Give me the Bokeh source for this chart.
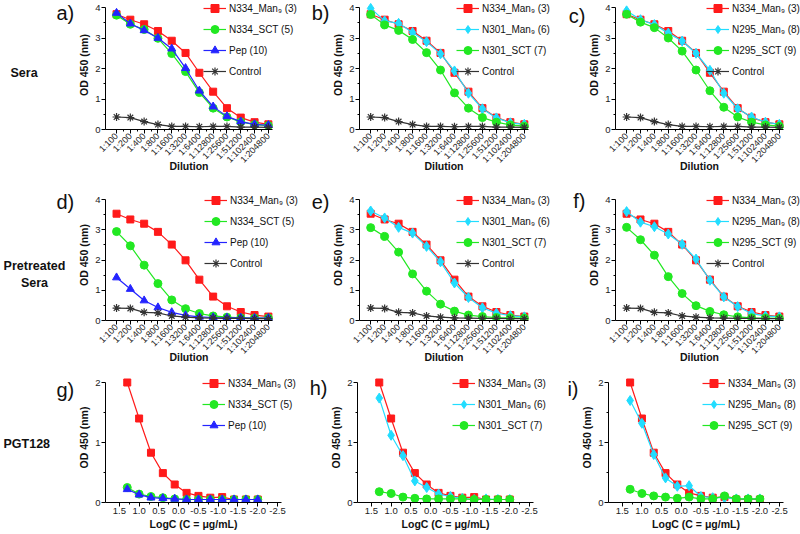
import math
from bokeh.plotting import figure
from bokeh.models import (Range1d, FixedTicker, Legend, LegendItem, Label,
                          NumeralTickFormatter, LinearAxis, CustomJSTickFormatter)
from bokeh.layouts import row, column
from bokeh.embed import file_html
from bokeh.resources import INLINE

# ---------------- data ----------------
dilutions = ["1:100", "1:200", "1:400", "1:800", "1:1600", "1:3200", "1:6400",
             "1:12800", "1:25600", "1:51200", "1:102400", "1:204800"]
logc = [1.3, 1.0, 0.7, 0.4, 0.1, -0.2, -0.5, -0.8, -1.1, -1.4, -1.7, -2.0]
logc_ticks = [1.5, 1.0, 0.5, 0.0, -0.5, -1.0, -1.5, -2.0, -2.5]
od_ticks_sera = [0, 1, 2, 3, 4]
od_ticks_pgt = [0, 1, 2]

# Sera
sera_n334_man9 = [3.78, 3.60, 3.45, 3.23, 2.91, 2.51, 1.86, 1.24, 0.70, 0.39, 0.24, 0.17]
sera_n334_sct = [3.75, 3.45, 3.28, 2.99, 2.49, 1.90, 1.21, 0.70, 0.41, 0.25, 0.16, 0.13]
sera_pep = [3.82, 3.47, 3.25, 3.00, 2.65, 2.01, 1.27, 0.75, 0.43, 0.26, 0.17, 0.14]
sera_control = [0.41, 0.39, 0.26, 0.16, 0.10, 0.10, 0.09, 0.10, 0.10, 0.08, 0.08, 0.07]
sera_n301_man9 = [3.97, 3.56, 3.48, 3.18, 2.88, 2.48, 1.92, 1.19, 0.68, 0.38, 0.22, 0.17]
sera_n301_sct = [3.77, 3.43, 3.25, 2.95, 2.52, 1.95, 1.20, 0.70, 0.39, 0.24, 0.15, 0.11]
sera_n295_man9 = [3.89, 3.60, 3.44, 3.16, 2.90, 2.50, 1.94, 1.19, 0.68, 0.41, 0.24, 0.17]
sera_n295_sct = [3.78, 3.52, 3.34, 3.00, 2.57, 1.95, 1.27, 0.73, 0.41, 0.24, 0.15, 0.11]

# Pretreated sera
pre_n334_man9 = [3.53, 3.34, 3.20, 2.93, 2.51, 1.99, 1.35, 0.79, 0.47, 0.28, 0.18, 0.13]
pre_n334_sct = [2.94, 2.47, 1.83, 1.22, 0.68, 0.39, 0.23, 0.15, 0.11, 0.09, 0.08, 0.08]
pre_pep = [1.42, 1.04, 0.66, 0.43, 0.27, 0.17, 0.12, 0.10, 0.09, 0.09, 0.08, 0.08]
pre_control = [0.41, 0.40, 0.27, 0.25, 0.15, 0.11, 0.09, 0.08, 0.07, 0.07, 0.06, 0.06]
pre_n301_man9 = [3.62, 3.39, 3.08, 2.89, 2.45, 1.94, 1.24, 0.76, 0.42, 0.24, 0.16, 0.12]
pre_n301_sct = [3.07, 2.78, 2.26, 1.54, 0.97, 0.54, 0.31, 0.18, 0.13, 0.10, 0.09, 0.08]
pre_n295_man9 = [3.60, 3.25, 3.10, 2.86, 2.52, 2.03, 1.33, 0.78, 0.46, 0.23, 0.15, 0.12]
pre_n295_sct = [3.08, 2.67, 2.16, 1.45, 0.89, 0.49, 0.30, 0.19, 0.12, 0.09, 0.08, 0.07]

# PGT128
pgt_n334_man9 = [2.00, 1.40, 0.83, 0.49, 0.30, 0.16, 0.11, 0.08, 0.09, 0.05, 0.05, 0.05]
pgt_n334_sct = [0.25, 0.14, 0.10, 0.08, 0.06, 0.05, 0.05, 0.05, 0.05, 0.05, 0.05, 0.05]
pgt_pep = [0.22, 0.13, 0.08, 0.07, 0.06, 0.05, 0.05, 0.05, 0.05, 0.05, 0.05, 0.05]
pgt_n301_man9 = [1.74, 1.12, 0.78, 0.36, 0.25, 0.14, 0.10, 0.07, 0.05, 0.06, 0.05, 0.05]
pgt_n301_sct = [0.18, 0.15, 0.09, 0.07, 0.06, 0.06, 0.06, 0.06, 0.05, 0.05, 0.05, 0.05]
pgt_n295_man9 = [1.70, 1.32, 0.80, 0.41, 0.27, 0.28, 0.10, 0.08, 0.08, 0.06, 0.06, 0.06]
pgt_n295_sct = [0.22, 0.15, 0.11, 0.09, 0.07, 0.09, 0.06, 0.06, 0.11, 0.06, 0.06, 0.06]

# ---------------- styles ----------------
FONT = "Liberation Sans"
RED, GREEN, BLUE, CYAN, BLACK = "#FF1A1A", "#22E822", "#2424FF", "#22DDFF", "#333333"

STY = {
    "n334_man9": dict(label="N334_Man\u2089 (3)", color=RED, marker="square", size=7),
    "n334_sct": dict(label="N334_SCT (5)", color=GREEN, marker="circle", size=8),
    "pep": dict(label="Pep (10)", color=BLUE, marker="triangle", size=8),
    "control": dict(label="Control", color=BLACK, marker="asterisk", size=8),
    "n301_man9": dict(label="N301_Man\u2089 (6)", color=CYAN, marker="diamond", size=10),
    "n301_sct": dict(label="N301_SCT (7)", color=GREEN, marker="circle", size=8),
    "n295_man9": dict(label="N295_Man\u2089 (8)", color=CYAN, marker="diamond", size=10),
    "n295_sct": dict(label="N295_SCT (9)", color=GREEN, marker="circle", size=8),
}

DIL_LIM = (-0.8, 11.3)
LOG_LIM = (1.85, -2.6)


def style_axis(ax):
    ax.axis_line_color = "black"
    ax.axis_line_width = 1
    ax.major_tick_line_color = "black"
    ax.minor_tick_line_color = "black"
    ax.major_tick_in = 0
    ax.major_tick_out = 4
    ax.minor_tick_in = 0
    ax.minor_tick_out = 2
    ax.major_label_text_font = FONT
    ax.major_label_text_font_size = "9.5px"
    ax.major_label_text_color = "#222222"
    ax.axis_label_text_font = FONT
    ax.axis_label_text_font_style = "bold"
    ax.axis_label_text_font_size = "10.5px"
    ax.axis_label_text_color = "#111111"
    ax.major_label_standoff = 1
    ax.axis_label_standoff = 2


def text_axis(at, text, size, style, standoff):
    """An axis without line or ticks that only shows one text at a data position."""
    return LinearAxis(ticker=FixedTicker(ticks=[at]),
                      formatter=CustomJSTickFormatter(args=dict(t=text), code="return t"),
                      axis_line_color=None, major_tick_in=0, major_tick_out=0,
                      minor_tick_in=0, minor_tick_out=0,
                      major_label_standoff=standoff,
                      major_label_text_font=FONT, major_label_text_font_size=size,
                      major_label_text_font_style=style,
                      major_label_text_color="#111111")


def panel(kind, series, g, letter=None, letter_dy=6):
    left, fw, right, dw = g["left"], g["fw"], g["right"], g["dw"]
    top, top_pad, dh, bottom = g["top"], g["top_pad"], g["dh"], g["bottom"]
    if kind == "dil":
        xs = list(range(len(dilutions)))
        lo, hi = DIL_LIM
        ymax = 4
        yt = od_ticks_sera
    else:
        xs = logc
        lo, hi = LOG_LIM
        ymax = 2
        yt = od_ticks_pgt
    ppu_x = dw / (hi - lo)
    x_range = Range1d(lo, lo + fw / ppu_x)
    ppu_y = dh / ymax
    y_range = Range1d(0, ymax + top_pad / ppu_y)
    fh = dh + top_pad

    p = figure(frame_width=fw, frame_height=fh, min_border_left=left,
               min_border_right=right, min_border_top=top, min_border_bottom=bottom,
               x_range=x_range, y_range=y_range, toolbar_location=None,
               output_backend="svg", title=None)
    p.xgrid.visible = False
    p.ygrid.visible = False
    p.outline_line_color = None
    p.background_fill_color = "white"
    p.border_fill_color = "white"

    xa = p.xaxis[0]
    ya = p.yaxis[0]
    style_axis(xa)
    style_axis(ya)
    ya.ticker = FixedTicker(ticks=yt, minor_ticks=[t + 0.5 for t in yt[:-1]])
    ya.bounds = (yt[0], yt[-1])
    ya.axis_label = "OD 450 (nm)"
    xa.bounds = (min(lo, hi), max(lo, hi))
    if kind == "dil":
        xa.ticker = FixedTicker(ticks=xs, minor_ticks=[x + 0.5 for x in xs[:-1]])
        xa.major_label_overrides = {i: lab for i, lab in enumerate(dilutions)}
        xa.major_label_orientation = math.pi / 4
        xa.major_label_text_font_size = "9px"
        title, t_standoff = "Dilution", -12
    else:
        xa.ticker = FixedTicker(ticks=logc_ticks,
                                minor_ticks=[(a + b) / 2 for a, b in zip(logc_ticks[:-1], logc_ticks[1:])])
        xa.formatter = NumeralTickFormatter(format="0.0")
        title, t_standoff = "LogC (C = \u03bcg/mL)", 1
    # x-axis title centred under the data part of the frame
    p.add_layout(text_axis((lo + hi) / 2, title, "10.5px", "bold", t_standoff), "below")

    if letter is not None:
        yc = ymax - letter_dy / ppu_y
        p.add_layout(text_axis(yc, letter + ")", "20px", "normal", 0), "left")

    items = []
    for key, ys in series:
        s = STY[key]
        ln = p.line(xs, ys, line_color=s["color"], line_width=1.2)
        if s["marker"] == "asterisk":
            sc = p.scatter(xs, ys, marker="asterisk", size=s["size"],
                           line_color=s["color"], line_width=1.2)
        else:
            sc = p.scatter(xs, ys, marker=s["marker"], size=s["size"],
                           fill_color=s["color"], line_color=s["color"])
        items.append(LegendItem(label=s["label"], renderers=[ln, sc]))

    n = len(items)
    leg_h = n * 20 + (n - 1) * 1
    leg_top_from_frame_top = top_pad + 1 - 10
    legend = Legend(items=items,
                    location=(g["leg_dx"], fh - leg_top_from_frame_top - leg_h),
                    background_fill_alpha=0, border_line_alpha=0,
                    padding=0, margin=0, spacing=1,
                    glyph_width=23, glyph_height=20, label_height=20,
                    label_standoff=3, label_text_font=FONT,
                    label_text_font_size="10px", label_text_color="#111111",
                    label_text_baseline="middle")
    p.add_layout(legend)
    return p


def geo(left, fw, right, dw, top, top_pad, dh, bottom, leg_dx):
    return dict(left=left, fw=fw, right=right, dw=dw, top=top, top_pad=top_pad,
                dh=dh, bottom=bottom, leg_dx=leg_dx)

R1 = dict(top=0, top_pad=7, dh=122, bottom=45)
R2 = dict(top=15, top_pad=10, dh=121, bottom=45)
R3 = dict(top=7, top_pad=10, dh=120, bottom=30)

pa = panel("dil", [("n334_man9", sera_n334_man9), ("n334_sct", sera_n334_sct),
                   ("pep", sera_pep), ("control", sera_control)],
           geo(25, 200, 3, 167, leg_dx=98, **R1))
pb = panel("dil", [("n334_man9", sera_n334_man9), ("n301_man9", sera_n301_man9),
                   ("n301_sct", sera_n301_sct), ("control", sera_control)],
           geo(48, 201, 0, 169, leg_dx=97, **R1), letter="b", letter_dy=5.5)
pc = panel("dil", [("n334_man9", sera_n334_man9), ("n295_man9", sera_n295_man9),
                   ("n295_sct", sera_n295_sct), ("control", sera_control)],
           geo(55, 191, 0, 168, leg_dx=91, **R1), letter="c", letter_dy=8)

pd = panel("dil", [("n334_man9", pre_n334_man9), ("n334_sct", pre_n334_sct),
                   ("pep", pre_pep), ("control", pre_control)],
           geo(25, 200, 3, 167, leg_dx=99, **R2))
pe = panel("dil", [("n334_man9", pre_n334_man9), ("n301_man9", pre_n301_man9),
                   ("n301_sct", pre_n301_sct), ("control", pre_control)],
           geo(48, 201, 0, 169, leg_dx=97, **R2), letter="e", letter_dy=2)
pf = panel("dil", [("n334_man9", pre_n334_man9), ("n295_man9", pre_n295_man9),
                   ("n295_sct", pre_n295_sct), ("control", pre_control)],
           geo(55, 191, 0, 168, leg_dx=91, **R2), letter="f", letter_dy=1)

pg = panel("log", [("n334_man9", pgt_n334_man9), ("n334_sct", pgt_n334_sct),
                   ("pep", pgt_pep)],
           geo(27, 198, 3, 176, leg_dx=97, **R3))
ph = panel("log", [("n334_man9", pgt_n334_man9), ("n301_man9", pgt_n301_man9),
                   ("n301_sct", pgt_n301_sct)],
           geo(44, 205, 0, 176, leg_dx=95, **R3), letter="h", letter_dy=5)
pi = panel("log", [("n334_man9", pgt_n334_man9), ("n295_man9", pgt_n295_man9),
                   ("n295_sct", pgt_n295_sct)],
           geo(46, 200, 0, 175, leg_dx=94, **R3), letter="i", letter_dy=6.5)

h1 = sum(R1.values())
h2 = sum(R2.values())
h3 = sum(R3.values())
total_h = h1 + h2 + h3

# row labels and first-column panel letters
LAB_W = 75
lab = figure(width=LAB_W, height=total_h, x_range=Range1d(0, LAB_W),
             y_range=Range1d(total_h, 0), toolbar_location=None,
             output_backend="svg", min_border=0,
             x_axis_location=None, y_axis_location=None)
lab.xgrid.visible = False
lab.ygrid.visible = False
lab.outline_line_color = None
row_labels = [("Sera", 10, 72, "left"),
              ("Pretreated", 34, 265, "center"),
              ("Sera", 34, 282, "center"),
              ("PGT128", 3, 443, "left")]
for txt, x, y, al in row_labels:
    lab.add_layout(Label(x=x, y=y, text=txt, text_font=FONT, text_font_size="12.5px",
                         text_font_style="bold", text_align=al,
                         text_baseline="middle", text_color="#111111"))
for txt, y in [("a)", 12), ("d)", 201), ("g)", 389)]:
    lab.add_layout(Label(x=56, y=y, text=txt, text_font=FONT, text_font_size="20px",
                         text_align="left", text_baseline="middle",
                         text_color="#111111"))

layout = row(lab, column(row(pa, pb, pc), row(pd, pe, pf), row(pg, ph, pi)))

open("out.html", "w").write(file_html(layout, INLINE))
